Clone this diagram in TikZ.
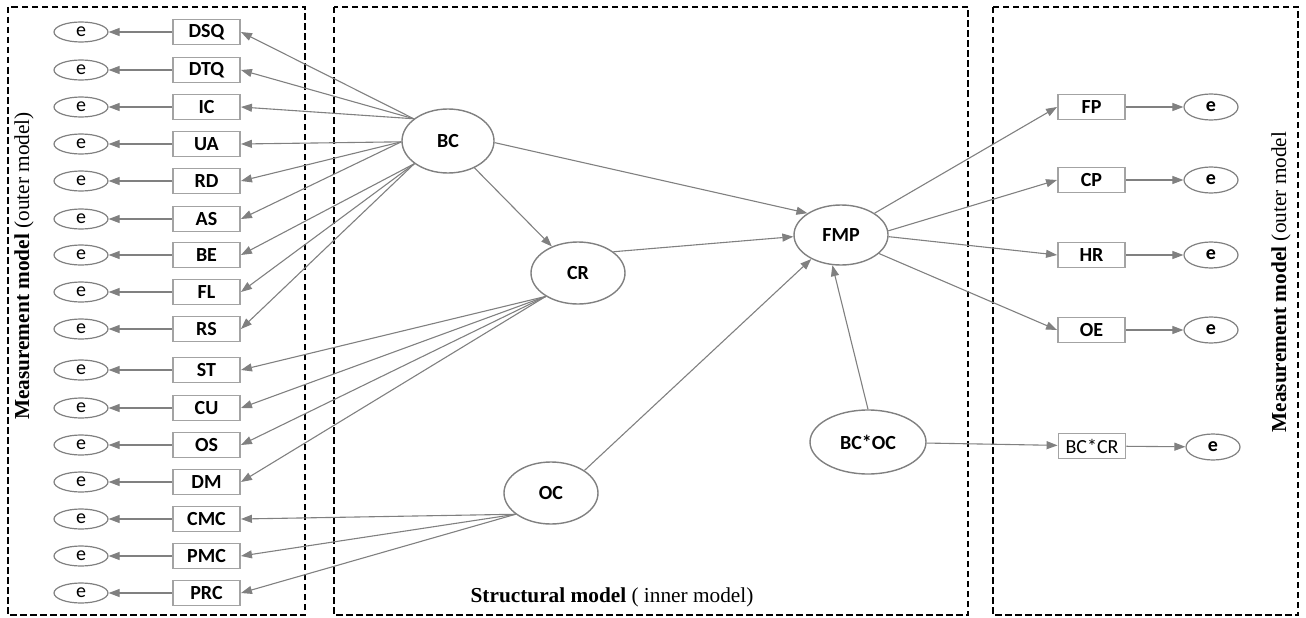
\documentclass[tikz,border=0pt]{standalone}
\usepackage{fontspec}
\setmainfont{Liberation Serif}
\newfontfamily\calibri{Carlito}
\usetikzlibrary{arrows.meta,shapes.geometric}

\definecolor{edgegrey}{HTML}{808080}
\definecolor{boxgrey}{HTML}{A3A3A3}

\tikzset{
  indicator/.style={draw=boxgrey, line width=1.9pt, minimum width=67pt, minimum height=25pt,
    inner sep=0pt, font=\calibri\bfseries\fontsize{20}{20}\selectfont},
  errterm/.style={ellipse, draw=edgegrey, line width=1.2pt, minimum width=54pt, minimum height=20pt,
    inner sep=0pt, font=\calibri\fontsize{20}{20}\selectfont},
  errbold/.style={errterm, minimum height=26pt, font=\calibri\bfseries\fontsize{20}{20}\selectfont},
  latent/.style={ellipse, draw=edgegrey, line width=1.4pt, inner sep=0pt,
    font=\calibri\bfseries\fontsize{20}{20}\selectfont},
  link/.style={draw=edgegrey, line width=1.1pt, -{Triangle[length=11pt,width=8pt]}},
  panel/.style={draw=black, line width=1.2pt, dash pattern=on 6.5pt off 3.5pt},
  caption/.style={inner sep=0pt, font=\fontsize{21.3}{24}\selectfont},
}

\begin{document}
\begin{tikzpicture}[x=1pt,y=-1pt]
  \useasboundingbox (0,0) rectangle (1306,618);

  % three dashed panels
  \draw[panel] (8,7) rectangle (305,615);
  \draw[panel] (334,7) rectangle (968,615);
  \draw[panel] (993,7) rectangle (1298,615);

  % panel captions
  \node[caption, rotate=90] (leftcap) at (24,266) {\textbf{Measurement model} (outer model)};
  \node[caption, rotate=90] (rightcap) at (1281,282) {\textbf{Measurement model} (outer model};
  \node[caption] (midcap) at (612,597) {\textbf{Structural model} ( inner model)};

  % latent constructs
  \node[latent, minimum width=92pt, minimum height=64pt] (BC) at (448,141) {BC};
  \node[latent, minimum width=94pt, minimum height=62pt] (CR) at (578,273) {CR};
  \node[latent, minimum width=94pt, minimum height=62pt] (OC) at (551,493) {OC};
  \node[latent, minimum width=94pt, minimum height=60pt] (FMP) at (841,235) {FMP};
  \node[latent, minimum width=116pt, minimum height=64pt] (BCOC) at (868,442) {BC*OC};

  % left indicators with their error terms
  \foreach \n/\y in {DSQ/32,DTQ/70,IC/107,UA/144,RD/181,AS/219,BE/255,FL/292,RS/329,
                     ST/370,CU/408,OS/445,DM/482,CMC/519,PMC/556,PRC/593}{
    \node[indicator] (\n) at (206.5,\y) {\n};
    \node[errterm] (e\n) at (81,\y) {e};
    \draw[link] (\n) -- (e\n);
  }

  % right indicators with their error terms
  \foreach \n/\y in {FP/107,CP/180,HR/255,OE/330}{
    \node[indicator] (\n) at (1091.5,\y) {\n};
    \node[errbold] (e\n) at (1211,\y) {e};
    \draw[link] (\n) -- (e\n);
  }
  \node[indicator, font=\calibri\fontsize{20}{20}\selectfont] (BCCR) at (1092,446) {BC*CR};
  \node[errbold] (eBCCR) at (1213,447) {e};
  \draw[link] (BCCR) -- (eBCCR);

  % outer loadings of BC
  \foreach \n in {DSQ,DTQ,IC}{\draw[link] (BC.147) -- (\n.east);}
  \foreach \n in {UA,RD,AS}{\draw[link] (BC.181) -- (\n.east);}
  \foreach \n in {BE,FL,RS}{\draw[link] (BC.214) -- (\n.east);}

  % outer loadings of CR and OC
  \foreach \n in {ST,CU,OS,DM}{\draw[link] (CR.216) -- (\n.east);}
  \foreach \n in {CMC,PMC,PRC}{\draw[link] (OC.211) -- (\n.east);}

  % structural paths
  \draw[link] (BC) -- (CR);
  \draw[link] (BC.358) -- (FMP.147);
  \draw[link] (CR.31) -- (FMP.182);
  \draw[link] (OC.34) -- (FMP.219);
  \draw[link] (BCOC.90) -- (FMP.254);
  \draw[link] (BCOC) -- (BCCR);

  % outer loadings of FMP
  \draw[link] (FMP.33) -- (FP.west);
  \draw[link] (FMP.5) -- (CP.west);
  \draw[link] (FMP.358) -- (HR.west);
  \draw[link] (FMP.334) -- (OE.west);
\end{tikzpicture}
\end{document}
